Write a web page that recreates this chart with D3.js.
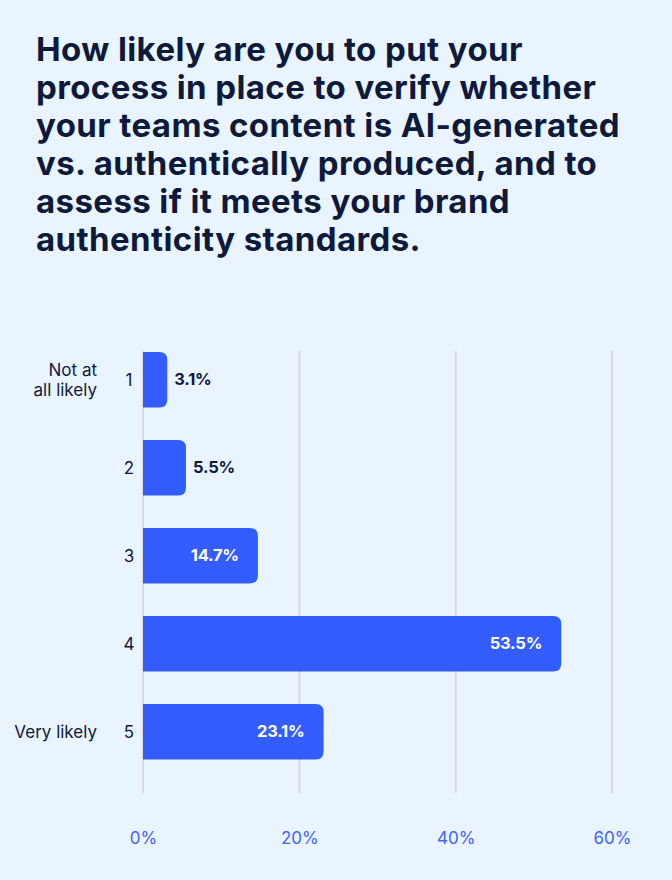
<!DOCTYPE html>
<html>
<head>
<meta charset="utf-8">
<script src="https://cdn.jsdelivr.net/npm/d3@7"></script>
<style>
  html, body { margin: 0; padding: 0; background: #eaf4fe; }
  svg { display: block; }
</style>
</head>
<body>
<svg id="chart" width="672" height="880"></svg>
<script>
const titleLines = [
  "How likely are you to put your",
  "process in place to verify whether",
  "your teams content is AI-generated",
  "vs. authentically produced, and to",
  "assess if it meets your brand",
  "authenticity standards."
];
const categories = ["1", "2", "3", "4", "5"];
const categoryNotes = [["Not at", "all likely"], [], [], [], ["Very likely"]];
const values = [3.1, 5.5, 14.7, 53.5, 23.1];
const ticks = [0, 20, 40, 60];

const width = 672, height = 880;
const margin = { top: 352, right: 60, bottom: 120.6, left: 143 };
const font = "Inter, 'Noto Sans', sans-serif";
const dark = "#0e1a3c";
const blue = "#335dff";

const svg = d3.select("#chart");

svg.append("rect")
  .attr("width", width).attr("height", height)
  .attr("fill", "#eaf4fe");

// Title
svg.append("text")
  .attr("x", 36)
  .attr("y", 61)
  .attr("font-family", font)
  .attr("font-weight", 700)
  .attr("font-size", 33)
  .attr("letter-spacing", 0.4)
  .attr("fill", dark)
  .selectAll("tspan")
  .data(titleLines)
  .join("tspan")
  .attr("x", 36)
  .attr("dy", (d, i) => i === 0 ? 0 : 38)
  .text(d => d);

const x = d3.scaleLinear()
  .domain([0, 60])
  .range([margin.left, 612]);

const y = d3.scaleBand()
  .domain(categories)
  .range([margin.top, height - margin.bottom])
  .paddingInner(0.37)
  .paddingOuter(0);

// Gridlines
svg.append("g")
  .selectAll("line")
  .data(ticks)
  .join("line")
  .attr("x1", d => x(d)).attr("x2", d => x(d))
  .attr("y1", 351).attr("y2", 793)
  .attr("stroke", "#d6d9de")
  .attr("stroke-width", 2);

// Tick labels
svg.append("g")
  .attr("transform", "translate(0,838)")
  .call(d3.axisBottom(x).tickValues(ticks).tickFormat(d => d + "%").tickSize(0))
  .call(g => g.select(".domain").remove())
  .call(g => g.selectAll("text")
    .attr("dy", "0.35em")
    .attr("y", 0)
    .attr("font-family", font)
    .attr("font-size", 17)
    .attr("fill", "#3f63ff"));

const data = categories.map((c, i) => ({ cat: c, value: values[i], note: categoryNotes[i] }));

// Bars with rounded right corners
const r = 8;
svg.append("g")
  .selectAll("path")
  .data(data)
  .join("path")
  .attr("fill", blue)
  .attr("d", d => {
    const x0 = x(0), x1 = x(d.value), y0 = y(d.cat), h = y.bandwidth();
    return `M${x0},${y0}H${x1 - r}Q${x1},${y0} ${x1},${y0 + r}` +
      `V${y0 + h - r}Q${x1},${y0 + h} ${x1 - r},${y0 + h}H${x0}Z`;
  });

// Value labels
svg.append("g")
  .selectAll("text")
  .data(data)
  .join("text")
  .attr("x", d => d.value < 10 ? x(d.value) + 7 : x(d.value) - 19)
  .attr("y", d => y(d.cat) + y.bandwidth() / 2)
  .attr("dy", "0.35em")
  .attr("text-anchor", d => d.value < 10 ? "start" : "end")
  .attr("font-family", font)
  .attr("font-weight", 700)
  .attr("font-size", 16.5)
  .attr("letter-spacing", -0.2)
  .attr("fill", d => d.value < 10 ? dark : "#ffffff")
  .text(d => d.value + "%");

// Category numbers
svg.append("g")
  .selectAll("text")
  .data(data)
  .join("text")
  .attr("x", 129)
  .attr("y", d => y(d.cat) + y.bandwidth() / 2)
  .attr("dy", "0.35em")
  .attr("text-anchor", "middle")
  .attr("font-family", font)
  .attr("font-size", 17)
  .attr("fill", dark)
  .text(d => d.cat);

// Endpoint notes
svg.append("g")
  .selectAll("text")
  .data(data.filter(d => d.note.length))
  .join("text")
  .attr("text-anchor", "end")
  .attr("font-family", font)
  .attr("font-size", 17)
  .attr("fill", dark)
  .attr("y", d => y(d.cat) + y.bandwidth() / 2 - (d.note.length - 1) * 10)
  .selectAll("tspan")
  .data(d => d.note)
  .join("tspan")
  .attr("x", 97)
  .attr("dy", (d, i) => i === 0 ? "0.35em" : 20)
  .text(d => d);
</script>
</body>
</html>
